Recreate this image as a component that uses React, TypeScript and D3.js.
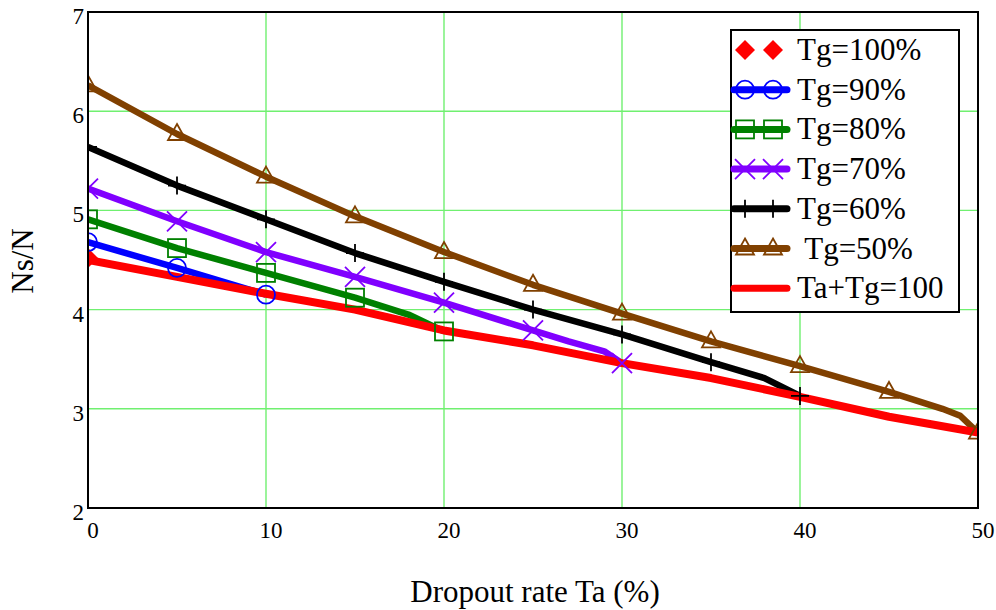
import React from "react";
import * as d3 from "d3";

const xTicks = [0, 10, 20, 30, 40, 50];
const yTicks = [2, 3, 4, 5, 6, 7];

const taRed = [0, 5, 10, 15, 20, 25, 30, 35, 40, 45, 50];
const nsRed = [4.5, 4.33, 4.16, 4.0, 3.79, 3.64, 3.46, 3.31, 3.12, 2.92, 2.76];

const taBlue = [0, 5, 10];
const nsBlue = [4.68, 4.42, 4.15];

const taGreen = [0, 5, 10, 15, 18, 20];
const nsGreen = [4.91, 4.62, 4.37, 4.12, 3.95, 3.78];

const taPurple = [0, 5, 10, 15, 20, 25, 27, 29, 30];
const nsPurple = [5.22, 4.89, 4.58, 4.33, 4.07, 3.79, 3.68, 3.58, 3.46];

const taBlack = [0, 5, 10, 15, 20, 25, 30, 35, 38, 40];
const nsBlack = [5.64, 5.25, 4.91, 4.57, 4.28, 4.0, 3.75, 3.47, 3.31, 3.13];

const taBrown = [0, 5, 10, 15, 20, 25, 30, 35, 40, 45, 48, 49, 50];
const nsBrown = [6.26, 5.77, 5.34, 4.94, 4.58, 4.25, 3.96, 3.68, 3.43, 3.17, 3.0, 2.93, 2.76];

const taPoint = [0];
const nsPoint = [4.52];

const legendLabels = ["Tg=100%", "Tg=90%", "Tg=80%", "Tg=70%", "Tg=60%", " Tg=50%", "Ta+Tg=100"];

type Marker = "diamond" | "circle" | "square" | "x" | "plus" | "triangle" | "none";

const series: { ta: number[]; ns: number[]; color: string; marker: Marker; line: boolean; width: number; label: string }[] = [
  { ta: taPoint, ns: nsPoint, color: "#ff0000", marker: "diamond", line: false, width: 0, label: legendLabels[0] },
  { ta: taBlue, ns: nsBlue, color: "#0000ff", marker: "circle", line: true, width: 6.5, label: legendLabels[1] },
  { ta: taGreen, ns: nsGreen, color: "#008000", marker: "square", line: true, width: 6.5, label: legendLabels[2] },
  { ta: taPurple, ns: nsPurple, color: "#8000ff", marker: "x", line: true, width: 6.5, label: legendLabels[3] },
  { ta: taBlack, ns: nsBlack, color: "#000000", marker: "plus", line: true, width: 6.5, label: legendLabels[4] },
  { ta: taBrown, ns: nsBrown, color: "#804000", marker: "triangle", line: true, width: 6.5, label: legendLabels[5] },
  { ta: taRed, ns: nsRed, color: "#ff0000", marker: "none", line: true, width: 8, label: legendLabels[6] },
];

const L = 88, R = 978, T = 12, B = 508;
const FONT = "'Liberation Serif', Tinos, 'Times New Roman', Times, 'DejaVu Serif', serif";

function MarkerShape({ type, x, y, color }: { type: Marker; x: number; y: number; color: string }) {
  const sw = 1.8;
  switch (type) {
    case "diamond":
      return <path d={`M${x},${y - 10}L${x + 10},${y}L${x},${y + 10}L${x - 10},${y}Z`} fill={color} />;
    case "circle":
      return <circle cx={x} cy={y} r={9} fill="none" stroke={color} strokeWidth={sw} />;
    case "square":
      return <rect x={x - 9} y={y - 9} width={18} height={18} fill="none" stroke={color} strokeWidth={sw} />;
    case "x":
      return <path d={`M${x - 10},${y - 10}L${x + 10},${y + 10}M${x - 10},${y + 10}L${x + 10},${y - 10}`} stroke={color} strokeWidth={sw} fill="none" />;
    case "plus":
      return <path d={`M${x},${y - 9}L${x},${y + 9}M${x - 9},${y}L${x + 9},${y}`} stroke={color} strokeWidth={sw} fill="none" />;
    case "triangle":
      return <path d={`M${x},${y - 10}L${x + 9},${y + 6}L${x - 9},${y + 6}Z`} stroke={color} strokeWidth={sw} fill="none" />;
    default:
      return null;
  }
}

export default function App() {
  const x = d3.scaleLinear().domain([0, 50]).range([L, R]);
  const y = d3.scaleLinear().domain([2, 7]).range([B, T]);
  const line = d3.line<[number, number]>().x((d) => x(d[0])).y((d) => y(d[1]));

  const legX = 731, legY = 30, legW = 228, legH = 282;
  const rowH = 39.7;

  return (
    <svg width={996} height={610} style={{ position: "absolute", left: 0, top: 0, background: "#fff", fontFamily: FONT }}>
      <defs>
        <clipPath id="plot">
          <rect x={L} y={T} width={R - L} height={B - T} />
        </clipPath>
      </defs>
      <rect x={0} y={0} width={996} height={610} fill="#fff" />
      {xTicks.slice(1, -1).map((t) => (
        <line key={"gx" + t} x1={x(t)} x2={x(t)} y1={T} y2={B} stroke="#70f070" strokeWidth={1.4} />
      ))}
      {yTicks.slice(1, -1).map((t) => (
        <line key={"gy" + t} x1={L} x2={R} y1={y(t)} y2={y(t)} stroke="#70f070" strokeWidth={1.4} />
      ))}
      <g clipPath="url(#plot)">
        {series.map((s, i) =>
          s.line ? (
            <path key={"l" + i} d={line(s.ta.map((t, j) => [t, s.ns[j]] as [number, number])) || ""} fill="none" stroke={s.color} strokeWidth={s.width} strokeLinejoin="round" strokeLinecap="butt" />
          ) : null
        )}
        {series.map((s, i) =>
          s.ta.map((t, j) =>
            t % 5 === 0 ? <MarkerShape key={"m" + i + "-" + j} type={s.marker} x={x(t)} y={y(s.ns[j])} color={s.color} /> : null
          )
        )}
      </g>
      <rect x={L} y={T} width={R - L} height={B - T} fill="none" stroke="#000" strokeWidth={2} />
      {yTicks.map((t) => (
        <text key={"ty" + t} x={84} y={y(t) + 12} textAnchor="end" fontSize={23} fill="#000">{t}</text>
      ))}
      {xTicks.map((t) => (
        <text key={"tx" + t} x={x(t) + 5} y={538} textAnchor="middle" fontSize={23} fill="#000">{t}</text>
      ))}
      <text x={535} y={602} textAnchor="middle" fontSize={31} fill="#000">Dropout rate Ta (%)</text>
      <text transform={`translate(33,261) rotate(-90)`} textAnchor="middle" fontSize={31} fill="#000">Ns/N</text>
      <g>
        <rect x={legX} y={legY} width={legW} height={legH} fill="#fff" stroke="#000" strokeWidth={2} />
        {series.map((s, i) => {
          const cy = 50 + i * rowH;
          return (
            <g key={"lg" + i}>
              {s.line ? <line x1={734} x2={787} y1={cy} y2={cy} stroke={s.color} strokeWidth={7} strokeLinecap="round" /> : null}
              {s.marker !== "none" ? (
                <>
                  <MarkerShape type={s.marker} x={745} y={cy} color={s.color} />
                  <MarkerShape type={s.marker} x={773} y={cy} color={s.color} />
                </>
              ) : null}
              <text x={797} y={cy + 10} fontSize={31} fill="#000" style={{ whiteSpace: "pre" }}>{s.label}</text>
            </g>
          );
        })}
      </g>
    </svg>
  );
}
